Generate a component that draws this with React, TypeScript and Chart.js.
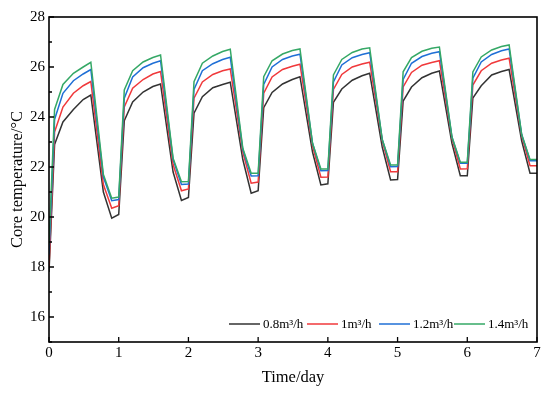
import React, { useEffect, useRef } from 'react';
import { Chart, registerables } from 'chart.js';

Chart.register(...registerables);

// ---- data ----
const timeDays = [
  0,
  0.08, 0.2, 0.35, 0.49, 0.6, 0.78, 0.9, 1.0,
  1.08, 1.2, 1.35, 1.49, 1.6, 1.78, 1.9, 2.0,
  2.08, 2.2, 2.35, 2.49, 2.6, 2.78, 2.9, 3.0,
  3.08, 3.2, 3.35, 3.49, 3.6, 3.78, 3.9, 4.0,
  4.08, 4.2, 4.35, 4.49, 4.6, 4.78, 4.9, 5.0,
  5.08, 5.2, 5.35, 5.49, 5.6, 5.78, 5.9, 6.0,
  6.08, 6.2, 6.35, 6.49, 6.6, 6.78, 6.9, 7.0,
];

const flow08 = [
  17.8,
  22.9, 23.8, 24.3, 24.7, 24.88, 21.0, 19.95, 20.1,
  23.85, 24.6, 25.0, 25.22, 25.32, 21.8, 20.66, 20.78,
  24.15, 24.81, 25.17, 25.3, 25.39, 22.3, 20.95, 21.05,
  24.37, 24.98, 25.32, 25.5, 25.61, 22.6, 21.28, 21.33,
  24.59, 25.12, 25.47, 25.65, 25.75, 22.8, 21.48, 21.5,
  24.64, 25.2, 25.57, 25.75, 25.84, 22.95, 21.65, 21.65,
  24.76, 25.25, 25.68, 25.82, 25.9, 23.05, 21.75, 21.75,
];

const flow10 = [
  18.0,
  23.4, 24.4, 24.95, 25.25, 25.42, 21.3, 20.35, 20.45,
  24.4, 25.15, 25.5, 25.72, 25.82, 22.1, 21.05, 21.12,
  24.75, 25.4, 25.7, 25.85, 25.92, 22.6, 21.35, 21.4,
  24.95, 25.6, 25.9, 26.03, 26.11, 22.85, 21.59, 21.6,
  25.1, 25.7, 26.0, 26.12, 26.19, 23.05, 21.81, 21.81,
  25.2, 25.78, 26.07, 26.18, 26.25, 23.15, 21.92, 21.93,
  25.28, 25.85, 26.15, 26.28, 26.35, 23.25, 22.05, 22.05,
];

const flow12 = [
  18.5,
  23.9, 24.95, 25.45, 25.72, 25.9, 21.6, 20.65, 20.7,
  24.75, 25.6, 25.97, 26.15, 26.25, 22.3, 21.3, 21.32,
  25.1, 25.85, 26.13, 26.3, 26.39, 22.7, 21.64, 21.65,
  25.3, 26.0, 26.3, 26.44, 26.51, 22.95, 21.85, 21.86,
  25.4, 26.08, 26.37, 26.5, 26.57, 23.1, 22.01, 22.02,
  25.5, 26.15, 26.42, 26.55, 26.61, 23.2, 22.15, 22.15,
  25.55, 26.2, 26.5, 26.65, 26.72, 23.3, 22.25, 22.25,
];

const flow14 = [
  18.9,
  24.3, 25.3, 25.75, 26.0, 26.19, 21.7, 20.75, 20.8,
  25.08, 25.85, 26.2, 26.38, 26.48, 22.35, 21.41, 21.42,
  25.41, 26.15, 26.44, 26.62, 26.71, 22.75, 21.75, 21.75,
  25.61, 26.25, 26.52, 26.66, 26.72, 22.95, 21.92, 21.92,
  25.68, 26.3, 26.58, 26.72, 26.77, 23.1, 22.08, 22.08,
  25.81, 26.38, 26.63, 26.75, 26.8, 23.2, 22.19, 22.19,
  25.8, 26.4, 26.68, 26.82, 26.88, 23.3, 22.3, 22.3,
];

const seriesLabels = ['0.8m³/h', '1m³/h', '1.2m³/h', '1.4m³/h'];
const seriesColors = ['#333333', '#f0393b', '#1f6fd6', '#35a866'];
const xTickValues = [0, 1, 2, 3, 4, 5, 6, 7];
const yTickValues = [16, 18, 20, 22, 24, 26, 28];
const yMinorTickValues = [15, 17, 19, 21, 23, 25, 27];

const FONT = '"Liberation Serif", "Times New Roman", serif';

const framePlugin = {
  id: 'frameTicks',
  afterDraw(chart: any) {
    const ctx = chart.ctx;
    const { left, right, top, bottom } = chart.chartArea;
    const xs = chart.scales.x;
    const ys = chart.scales.y;
    ctx.save();
    ctx.strokeStyle = '#000';
    ctx.lineWidth = 1.6;
    ctx.strokeRect(left, top, right - left, bottom - top);
    ctx.lineWidth = 1.3;
    ctx.beginPath();
    xTickValues.forEach((v) => {
      const p = xs.getPixelForValue(v);
      ctx.moveTo(p, bottom);
      ctx.lineTo(p, bottom - 5);
    });
    yTickValues.forEach((v) => {
      const p = ys.getPixelForValue(v);
      ctx.moveTo(left, p);
      ctx.lineTo(left + 5, p);
    });
    yMinorTickValues.forEach((v) => {
      const p = ys.getPixelForValue(v);
      ctx.moveTo(left, p);
      ctx.lineTo(left + 3, p);
    });
    ctx.stroke();

    // legend inside plot, bottom right
    const legendY = 324;
    const legendX = [229, 307, 379, 454];
    ctx.font = `13px ${FONT}`;
    ctx.textBaseline = 'middle';
    ctx.textAlign = 'left';
    chart.data.datasets.forEach((ds: any, i: number) => {
      const x0 = legendX[i];
      ctx.strokeStyle = ds.borderColor;
      ctx.lineWidth = 1.5;
      ctx.beginPath();
      ctx.moveTo(x0, legendY);
      ctx.lineTo(x0 + 31, legendY);
      ctx.stroke();
      ctx.fillStyle = '#000';
      ctx.fillText(ds.label, x0 + 34, legendY + 1);
    });
    ctx.restore();
  },
};

export default function App() {
  const ref = useRef<HTMLCanvasElement | null>(null);
  useEffect(() => {
    if (!ref.current) return;
    const series = [flow08, flow10, flow12, flow14];
    const chart = new Chart(ref.current, {
      type: 'line',
      data: {
        datasets: series.map((arr, i) => ({
          label: seriesLabels[i],
          data: timeDays.map((t, k) => ({ x: t, y: arr[k] })),
          borderColor: seriesColors[i],
          backgroundColor: seriesColors[i],
          borderWidth: 1.5,
          pointRadius: 0,
          tension: 0,
          fill: false,
          order: 4 - i,
        })),
      },
      options: {
        responsive: false,
        animation: false,
        layout: { padding: { left: 0, right: 13, top: 17, bottom: 0 } },
        plugins: { legend: { display: false }, tooltip: { enabled: false } },
        scales: {
          x: {
            type: 'linear',
            min: 0,
            max: 7,
            afterBuildTicks: (s: any) => {
              s.ticks = xTickValues.map((v) => ({ value: v }));
            },
            afterFit: (s: any) => {
              s.height = 57;
            },
            grid: { display: false, drawTicks: false },
            border: { display: false },
            ticks: {
              color: '#000',
              font: { family: FONT, size: 15 },
              padding: 2,
              maxRotation: 0,
              autoSkip: false,
            },
            title: {
              display: true,
              text: 'Time/day',
              color: '#000',
              font: { family: FONT, size: 16.5 },
              padding: { top: 0, bottom: 11 },
            },
          },
          y: {
            type: 'linear',
            min: 15,
            max: 28,
            afterBuildTicks: (s: any) => {
              s.ticks = yTickValues.map((v) => ({ value: v }));
            },
            afterFit: (s: any) => {
              s.width = 49;
            },
            grid: { display: false, drawTicks: false },
            border: { display: false },
            ticks: {
              color: '#000',
              font: { family: FONT, size: 15 },
              padding: 4,
              autoSkip: false,
            },
            title: {
              display: true,
              text: 'Core temperature/°C',
              color: '#000',
              font: { family: FONT, size: 16.5 },
              padding: { top: 8, bottom: 0 },
            },
          },
        },
      },
      plugins: [framePlugin],
    });
    return () => chart.destroy();
  }, []);
  return (
    <div style={{ position: 'fixed', left: 0, top: 0, width: 550, height: 399, background: '#fff' }}>
      <canvas ref={ref} width={550} height={399} />
    </div>
  );
}
